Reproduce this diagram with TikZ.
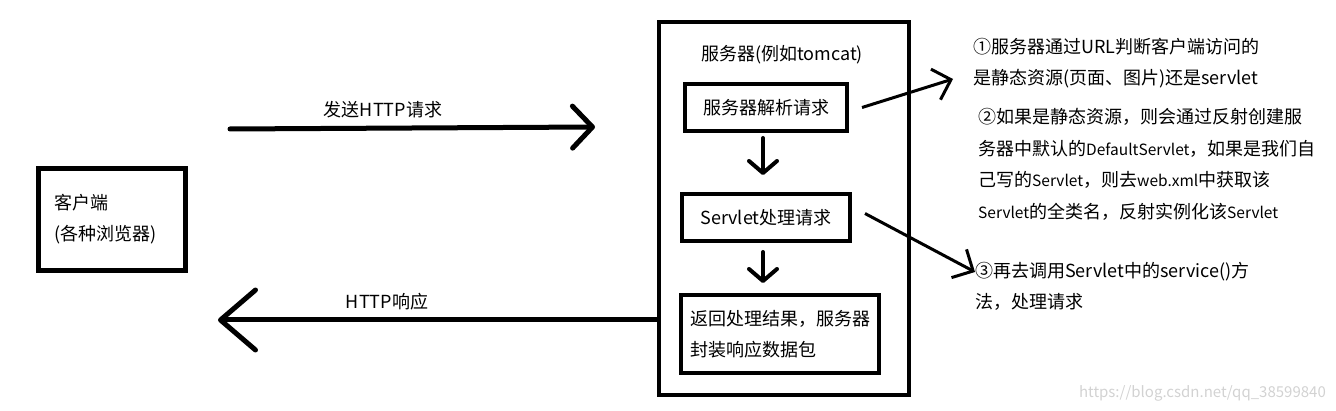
\documentclass[tikz,border=0pt]{standalone}
\usepackage{fontspec}
\setmainfont{Noto Sans CJK SC}
\usetikzlibrary{arrows.meta,positioning}

\newcommand{\smalllatin}[1]{{\fontsize{15.5}{31.6}\selectfont #1}}

\begin{document}
\begin{tikzpicture}[x=1pt,y=-1pt,
    every node/.style={font=\fontsize{18}{31}\selectfont, inner sep=0pt},
    box/.style={draw, line width=4pt, minimum height=47pt},
    bigbox/.style={draw, line width=5pt},
    flow/.style={line width=5pt, line cap=round,
      -{Straight Barb[length=20pt,width=42pt,round]}},
    step arrow/.style={line width=4pt, line cap=round,
      -{Straight Barb[length=12pt,width=28pt,round]}},
    note arrow/.style={line width=3pt,
      -{Straight Barb[length=16pt,width=32pt]}},
  ]
  \useasboundingbox (0,0) rectangle (1336,411);

  \node[bigbox, minimum width=147pt, minimum height=102pt,
    text width=116pt, align=left] (client) at (112,219.5)
    {客户端\\(各种浏览器)};

  \node[draw, line width=4pt, minimum width=250pt, minimum height=373pt]
    (server) at (784,208.5) {};
  \node (title) at (782,55) {服务器(例如tomcat)};
  \node[box, minimum width=162pt] (parse) at (766,107.5) {服务器解析请求};
  \node[box, minimum width=168pt] (handle) at (766,217.5) {Servlet处理请求};
  \node[box, minimum width=198pt, minimum height=78pt, align=left]
    (reply) at (780,334) {返回处理结果，服务器\\封装响应数据包};

  \draw[step arrow, shorten <=5pt, shorten >=17pt]
    ([xshift=-3pt]parse.south) -- ([xshift=-3pt]handle.north);
  \draw[step arrow, shorten <=9pt, shorten >=10pt]
    ([xshift=-3pt]handle.south) -- ([xshift=-17pt]reply.north);

  \coordinate (reqstart) at (230,129);
  \coordinate (reqend) at (595,127);
  \draw[flow] (reqstart) -- (reqend);
  \node (reqlabel) at (383,110) {发送HTTP请求};

  \coordinate (respend) at (218,320);
  \draw[flow, -{Straight Barb[length=35pt,width=60pt,round]}]
    (server.west |- respend) -- (respend);
  \node (resplabel) at (387,302) {HTTP响应};

  \node[anchor=west, align=left] (note1) at (973,63.5)
    {①服务器通过URL判断客户端访问的\\是静态资源(页面、图片)还是servlet};
  \node[anchor=west, align=left, font=\fontsize{18}{31.6}\selectfont]
    (note2) at (978,164.5)
    {②如果是静态资源，则会通过反射创建服\\务器中默认的\smalllatin{DefaultServlet}，如果是我们自\\己写的\smalllatin{Servlet}，则去\smalllatin{web.xml}中获取该\\\smalllatin{Servlet}的全类名，反射实例化该\smalllatin{Servlet}};
  \node[anchor=west, align=left] (note3) at (975,286)
    {③再去调用Servlet中的service()方\\法，处理请求};

  \coordinate (tip1) at (953,79);
  \coordinate (tip3) at (975,272);
  \draw[note arrow] ([xshift=13pt]parse.east) -- (tip1);
  \draw[note arrow] ([shift={(13,-4)}]handle.east) -- (tip3);

  \node[anchor=east, text=gray!35, font=\fontsize{15}{18}\selectfont]
    (mark) at (1326,393) {https://blog.csdn.net/qq\_38599840};
\end{tikzpicture}
\end{document}
